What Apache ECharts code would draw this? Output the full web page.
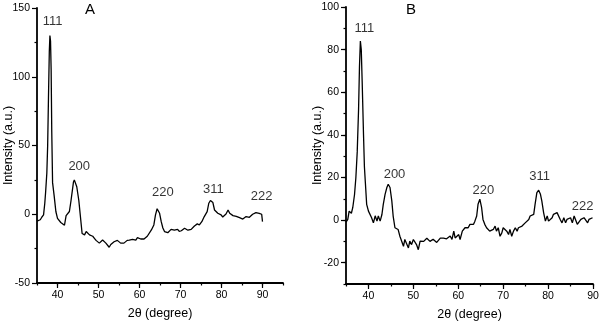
<!DOCTYPE html>
<html>
<head>
<meta charset="utf-8">
<script src="https://cdn.jsdelivr.net/npm/echarts@6/dist/echarts.min.js"></script>
<style>
  html, body { margin: 0; padding: 0; background: #fff; }
  #chart { width: 600px; height: 327px; }
</style>
</head>
<body>
<div id="chart"></div>
<script>
// panel A pattern
const thetaA = [35.0, 35.4, 35.8, 36.2, 36.6, 36.9, 37.1, 37.4, 37.6, 37.8, 38.0, 38.15, 38.3, 38.45, 38.6, 38.8, 39.2, 39.6, 40.0, 40.4, 40.8, 41.2, 41.7, 42.1, 42.5, 42.9, 43.3, 43.9, 44.1, 44.4, 44.7, 45.2, 45.6, 46.0, 46.3, 46.6, 47.0, 47.4, 47.8, 48.2, 48.6, 49.0, 49.4, 49.8, 50.2, 50.6, 51.0, 51.4, 51.8, 52.2, 52.6, 53.0, 53.4, 53.8, 54.2, 54.6, 55.0, 55.4, 55.8, 56.2, 56.6, 57.0, 57.5, 57.9, 58.3, 58.7, 59.1, 59.5, 59.9, 60.3, 60.7, 61.1, 61.5, 61.9, 62.3, 62.9, 63.5, 63.9, 64.3, 64.6, 64.9, 65.3, 65.7, 66.1, 66.5, 66.9, 67.3, 67.7, 68.1, 68.5, 68.9, 69.3, 69.7, 70.2, 70.6, 71.0, 71.4, 71.8, 72.2, 72.6, 73.0, 73.4, 73.8, 74.1, 74.6, 75.2, 75.8, 76.5, 76.9, 77.3, 77.6, 77.9, 78.3, 78.7, 79.1, 79.5, 79.9, 80.3, 80.7, 81.1, 81.6, 82.0, 82.4, 82.8, 83.2, 83.6, 84.0, 84.4, 84.8, 85.2, 85.6, 86.0, 86.4, 86.8, 87.2, 87.6, 88.0, 88.4, 88.8, 89.2, 89.6, 89.8, 90.0]
const intensityA = [-5, -5.5, -4, -2, -0.5, 8, 16, 30, 50, 85, 118, 130, 126, 105, 60, 23, 13, 2, -3, -4, -6, -5, -8, -1, -2, 2, 10, 23.5, 25, 24, 20, 10, -2, -14, -15, -15, -12.6, -14, -15, -13.8, -16, -17.5, -19, -20, -21, -20, -18.8, -20, -21, -22, -24, -22, -21, -20, -18.8, -19, -20, -21, -22.3, -21, -20, -19, -18.8, -20, -18.3, -19, -18.8, -17, -16.8, -18, -18.8, -18, -17.5, -16, -15, -11.4, -7.8, -0.5, 4, 5, 0.7, -5.4, -10, -12.6, -13, -13.4, -12, -11, -12, -11.6, -12, -11, -12.5, -12, -11, -10.2, -11, -11.6, -12, -11, -10, -8.5, -7.5, -7, -7.8, -5.4, -1.7, 1.9, 8, 10, 10.4, 8.5, 3.1, 1.9, 0.7, 0, -0.5, -2, -2.9, 0.2, 3.1, 0.7, -0.5, -1, -0.5, -1.5, -1.7, -2.5, -2.9, -3.5, -4.1, -1.7, -2.5, -2.2, -1.5, 0, 0.7, 1.2, 1.9, 0.7, 1.9, 0, -5.4]

// panel B pattern
const thetaB = [35.0, 35.4, 35.7, 36.0, 36.2, 36.5, 36.9, 37.2, 37.5, 37.8, 38.0, 38.2, 38.4, 38.6, 38.9, 39.1, 39.3, 39.6, 40.0, 40.4, 40.7, 41.1, 41.5, 41.9, 42.2, 42.6, 43.0, 43.3, 43.7, 44.1, 44.4, 44.8, 45.2, 45.5, 45.9, 46.3, 46.6, 47.0, 47.4, 47.8, 48.1, 48.5, 48.9, 49.2, 49.6, 50.0, 50.4, 50.7, 51.1, 51.5, 51.9, 52.3, 52.6, 53.0, 53.3, 53.7, 54.1, 54.4, 54.8, 55.2, 55.6, 56.0, 56.3, 56.7, 57.1, 57.4, 57.8, 58.2, 58.6, 59.0, 59.3, 59.7, 60.1, 60.4, 60.9, 61.2, 61.5, 61.9, 62.2, 62.6, 63.0, 63.4, 63.7, 64.1, 64.4, 64.8, 65.2, 65.5, 65.9, 66.3, 66.7, 67.0, 67.4, 67.8, 68.2, 68.5, 68.9, 69.3, 69.7, 70.0, 70.4, 70.8, 71.2, 71.5, 71.9, 72.3, 72.7, 73.1, 73.4, 73.8, 74.2, 74.6, 74.9, 75.3, 75.7, 76.0, 76.4, 76.8, 77.1, 77.5, 77.9, 78.3, 78.6, 79.0, 79.4, 79.8, 80.1, 80.5, 80.9, 81.2, 81.6, 82.0, 82.4, 82.7, 83.1, 83.5, 83.9, 84.2, 84.6, 85.0, 85.4, 85.8, 86.1, 86.5, 86.9, 87.3, 87.6, 88.0, 88.4, 88.8, 89.1, 89.5, 89.9]
const intensityB = [-1, 0.3, 4.2, 5, 3.2, 5.8, 12, 20, 32, 52, 72, 84, 80, 65, 40, 25, 18, 7.4, 4.2, 3.9, 1.1, -1.3, 2, -0.5, 1.9, -0.5, 2.6, 7.4, 12.1, 15.3, 16.8, 15.3, 9, 1.9, -3.6, -2.8, -4.4, -7.6, -9.9, -12.3, -9.1, -8.4, -13.1, -9.9, -11.5, -9.1, -8.4, -11.5, -13.9, -9.9, -9.1, -10, -9.9, -8.5, -8.7, -10, -9.6, -9, -8.7, -10.5, -9.9, -8.5, -7.6, -8.5, -9.1, -8.8, -8, -7.5, -9.1, -5.2, -8.4, -8, -6.8, -9.1, -5.2, -6, -3.6, -4.4, -3.6, -2, -1.3, -2, -0.5, 1.9, 7.4, 9.8, 5.8, 0.3, -2, -3.6, -2.8, -5.2, -6, -4.4, -2.8, -5.2, -3.6, -7.6, -6, -3.6, -2.8, -5.2, -6.8, -4.4, -7.6, -5.2, -3.6, -5.2, -3.6, -3.5, -2.8, -2, -1.3, -0.5, 0.3, 1.9, 1.1, 2.7, 7.4, 12.9, 14, 12.1, 9, 3.5, -0.5, 1.9, -0.5, -1.3, 1.1, 2.7, 3.2, 3.5, 2.7, 0.3, -1.3, 1.1, -1.3, 0.3, -0.5, 1.1, -1.3, 1.9, 2.7, -2, -1.3, 0.3, -0.5, 1.1, 0.3, -1.3, 0.3, -0.5, 1.1]

// reflection labels (centre of each label, data units)
const peakNames = ['111', '200', '220', '311', '222']
const peakXA = [38.8, 45.3, 65.7, 78.0, 89.8]
const peakYA = [140, 35, 16, 18, 13]
const peakXB = [39.1, 45.8, 65.6, 78.1, 87.7]
const peakYB = [90, 21.5, 14, 20.5, 6.5]

const xMajorTicks = [40, 50, 60, 70, 80, 90]
const yMajorTicksB = [-20, 0, 20, 40, 60, 80, 100]

const font = "'Liberation Sans', Arial, sans-serif"
const black = '#000'

const chart = echarts.init(document.getElementById('chart'))

const toPairs = (xs, ys) => xs.map((x, i) => [x, ys[i]])
const toLabels = (xs, ys) => xs.map((x, i) => [x, ys[i], peakNames[i]])

const axisLine = { show: true, onZero: false, lineStyle: { color: black, width: 1.8 } }
const labelStyle = { color: black, fontSize: 10.5, fontFamily: font, margin: 7 }
const nameStyle = { color: black, fontSize: 12.5, fontFamily: font }
const peakLabel = { show: true, position: 'inside', formatter: (p) => p.value[2], color: black, fontSize: 13, fontFamily: font }

const xMain = (grid, max) => ({
  type: 'value', gridIndex: grid, min: 35, max: max, interval: 5,
  position: 'bottom',
  name: '2θ (degree)', nameLocation: 'middle', nameGap: 24, nameTextStyle: nameStyle,
  nameMoveOverlap: false,
  axisLine: axisLine,
  axisTick: { show: true, length: 2.5, lineStyle: { color: black, width: 1.2 } },
  axisLabel: {
    ...labelStyle,
    formatter: (v) => (v % 10 === 0 ? String(v) : ''),
  },
  splitLine: { show: false },
})

// second axis on the same grid, only for the longer major ticks
const xMajor = (grid, max) => ({
  type: 'value', gridIndex: grid, min: 35, max: max,
  position: 'bottom',
  axisLine: { show: false, onZero: false },
  axisTick: { show: true, length: 5, customValues: xMajorTicks, lineStyle: { color: black, width: 1.2 } },
  axisLabel: { show: false },
  splitLine: { show: false },
})

const option = {
  backgroundColor: '#fff',
  animation: false,
  title: [
    { text: 'A', left: 80, top: -3, textStyle: { color: black, fontSize: 15, fontWeight: 'normal', fontFamily: font } },
    { text: 'B', left: 401, top: -3, textStyle: { color: black, fontSize: 15, fontWeight: 'normal', fontFamily: font } },
  ],
  grid: [
    { left: 37, top: 8, width: 246, height: 275, containLabel: false, outerBoundsMode: 'none' },
    { left: 346, top: 7, width: 247, height: 277, containLabel: false, outerBoundsMode: 'none' },
  ],
  xAxis: [xMain(0, 95), xMajor(0, 95), xMain(1, 90), xMajor(1, 90)],
  yAxis: [
    {
      type: 'value', gridIndex: 0, min: -50, max: 150, interval: 50,
      name: 'Intensity (a.u.)', nameLocation: 'middle', nameGap: 22, nameTextStyle: nameStyle,
      nameMoveOverlap: false,
      axisLine: axisLine,
      axisTick: { show: true, length: 5, lineStyle: { color: black, width: 1.2 } },
      minorTick: { show: true, splitNumber: 2, length: 2.5, lineStyle: { color: black, width: 1.2 } },
      axisLabel: labelStyle,
      splitLine: { show: false },
    },
    {
      type: 'value', gridIndex: 1, min: -30, max: 100, interval: 10,
      name: 'Intensity (a.u.)', nameLocation: 'middle', nameGap: 22, nameTextStyle: nameStyle,
      nameMoveOverlap: false,
      axisLine: axisLine,
      axisTick: { show: true, length: 2.5, lineStyle: { color: black, width: 1.2 } },
      axisLabel: { ...labelStyle, formatter: (v) => (v % 20 === 0 ? String(v) : '') },
      splitLine: { show: false },
    },
    {
      type: 'value', gridIndex: 1, min: -30, max: 100, position: 'left',
      axisLine: { show: false, onZero: false },
      axisTick: { show: true, length: 5, customValues: yMajorTicksB, lineStyle: { color: black, width: 1.2 } },
      axisLabel: { show: false },
      splitLine: { show: false },
    },
  ],
  series: [
    {
      type: 'line', xAxisIndex: 0, yAxisIndex: 0,
      data: toPairs(thetaA, intensityA),
      showSymbol: false, lineStyle: { color: black, width: 1.3 },
    },
    {
      type: 'line', xAxisIndex: 2, yAxisIndex: 1,
      data: toPairs(thetaB, intensityB),
      showSymbol: false, lineStyle: { color: black, width: 1.3 },
    },
    {
      type: 'scatter', xAxisIndex: 0, yAxisIndex: 0, silent: true,
      data: toLabels(peakXA, peakYA), symbolSize: 1, itemStyle: { color: 'transparent' },
      label: peakLabel,
    },
    {
      type: 'scatter', xAxisIndex: 2, yAxisIndex: 1, silent: true,
      data: toLabels(peakXB, peakYB), symbolSize: 1, itemStyle: { color: 'transparent' },
      label: peakLabel,
    },
  ],
}

chart.setOption(option)

window.addEventListener('resize', () => {
  chart.resize()
})
</script>
</body>
</html>
